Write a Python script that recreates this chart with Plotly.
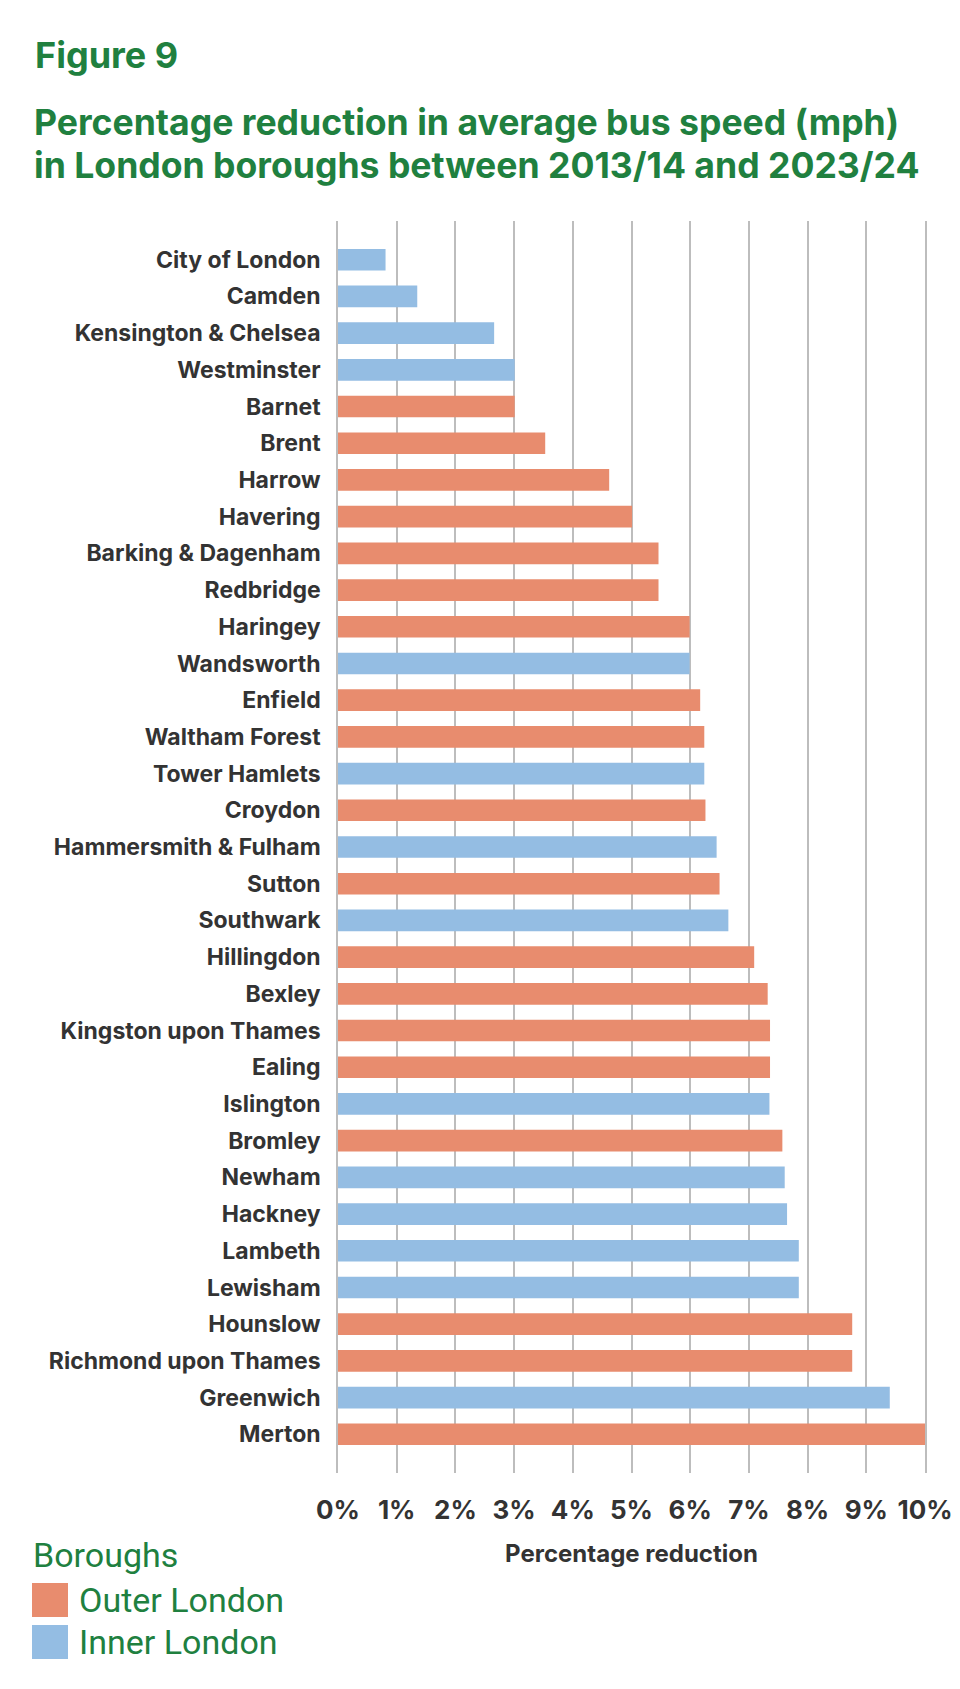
"""
Figure 9 - bus speed reduction by London borough
"""
import plotly.graph_objects as go

# data
boroughs = ['City of London', 'Camden', 'Kensington & Chelsea', 'Westminster', 'Barnet',
            'Brent', 'Harrow', 'Havering', 'Barking & Dagenham', 'Redbridge', 'Haringey',
            'Wandsworth', 'Enfield', 'Waltham Forest', 'Tower Hamlets', 'Croydon',
            'Hammersmith & Fulham', 'Sutton', 'Southwark', 'Hillingdon', 'Bexley',
            'Kingston upon Thames', 'Ealing', 'Islington', 'Bromley', 'Newham', 'Hackney',
            'Lambeth', 'Lewisham', 'Hounslow', 'Richmond upon Thames', 'Greenwich', 'Merton']
reduction = [0.81, 1.35, 2.66, 3.01, 3.01,
             3.53, 4.62, 5.01, 5.46, 5.46, 5.99,
             5.99, 6.17, 6.24, 6.24, 6.26,
             6.45, 6.50, 6.65, 7.09, 7.32,
             7.36, 7.36, 7.35, 7.57, 7.61, 7.65,
             7.85, 7.85, 8.76, 8.76, 9.40, 10.0]
group = ['Inner', 'Inner', 'Inner', 'Inner', 'Outer',
         'Outer', 'Outer', 'Outer', 'Outer', 'Outer', 'Outer',
         'Inner', 'Outer', 'Outer', 'Inner', 'Outer',
         'Inner', 'Outer', 'Inner', 'Outer', 'Outer',
         'Outer', 'Outer', 'Inner', 'Outer', 'Inner', 'Inner',
         'Inner', 'Inner', 'Outer', 'Outer', 'Inner', 'Outer']
groups = ['Outer', 'Inner']
group_labels = ['Outer London', 'Inner London']
x_ticks = list(range(0, 11))
x_ticktext = [f'{t}%' for t in x_ticks]

colours = {'Outer': '#E88C6E', 'Inner': '#94BDE3'}
GREEN = '#20803F'
DARK = '#333333'
GRID = '#BDBDBD'

# plot area in pixels (used to place the text around it)
L, R, T, B = 330, 917, 213, 1465


def px(x):
    return (x - L) / (R - L)


def py(y):
    return (B - y) / (B - T)


fig = go.Figure()

for g in groups:
    ys = [b for b, gg in zip(boroughs, group) if gg == g]
    xs = [v for v, gg in zip(reduction, group) if gg == g]
    fig.add_trace(go.Bar(x=xs, y=ys, orientation='h', width=0.59,
                         marker=dict(color=colours[g], line=dict(width=0)),
                         showlegend=False))

n = len(boroughs)
fig.update_layout(
    width=960, height=1689,
    paper_bgcolor='white', plot_bgcolor='white',
    margin=dict(l=L, r=960 - R, t=T, b=1689 - B),
    barmode='overlay',
    font=dict(family='Inter', color=DARK),
    xaxis=dict(range=[0, 10], tickvals=x_ticks, ticktext=x_ticktext,
               showgrid=True, gridcolor=GRID, gridwidth=1.5,
               zeroline=False, showline=False,
               ticks='outside', ticklen=14, tickcolor='rgba(0,0,0,0)',
               tickfont=dict(family='Inter', size=26, color=DARK, weight='bold'),
               title=dict(text='Percentage reduction', standoff=20,
                          font=dict(family='Inter', size=24, color=DARK, weight='bold'))),
    yaxis=dict(categoryorder='array', categoryarray=boroughs,
               range=[n - 1 + 1.055, -1.055],
               showgrid=False, zeroline=False,
               showline=True, mirror=True, linecolor=GRID, linewidth=1.5,
               ticks='outside', ticklen=11, tickcolor='rgba(0,0,0,0)',
               tickfont=dict(family='Inter', size=23, color=DARK, weight='bold')),
)

annotations = [
    dict(text='Figure 9', x=px(25), y=py(47), font=dict(size=36, color=GREEN, weight='bold')),
    dict(text='Percentage reduction in average bus speed (mph)', x=px(24), y=py(114),
         font=dict(size=35.6, color=GREEN, weight='bold')),
    dict(text='in London boroughs between 2013/14 and 2023/24', x=px(24), y=py(157),
         font=dict(size=35.6, color=GREEN, weight='bold')),
    dict(text='Boroughs', x=px(23), y=py(1547),
         font=dict(family='Roboto', size=34, color=GREEN)),
]
for i, lab in enumerate(group_labels):
    y0 = 1575 + i * 42
    fig.add_shape(type='rect', xref='paper', yref='paper',
                  x0=px(24), x1=px(60), y0=py(y0), y1=py(y0 + 34),
                  fillcolor=colours[groups[i]], line=dict(width=0))
    annotations.append(dict(text=lab, x=px(69), y=py(y0 + 17),
                            font=dict(family='Roboto', size=34, color=GREEN)))

for a in annotations:
    a.update(xref='paper', yref='paper', xanchor='left', yanchor='middle', showarrow=False)
    a['font'].setdefault('family', 'Inter')
fig.update_layout(annotations=annotations)

fig.write_html("out.html")
